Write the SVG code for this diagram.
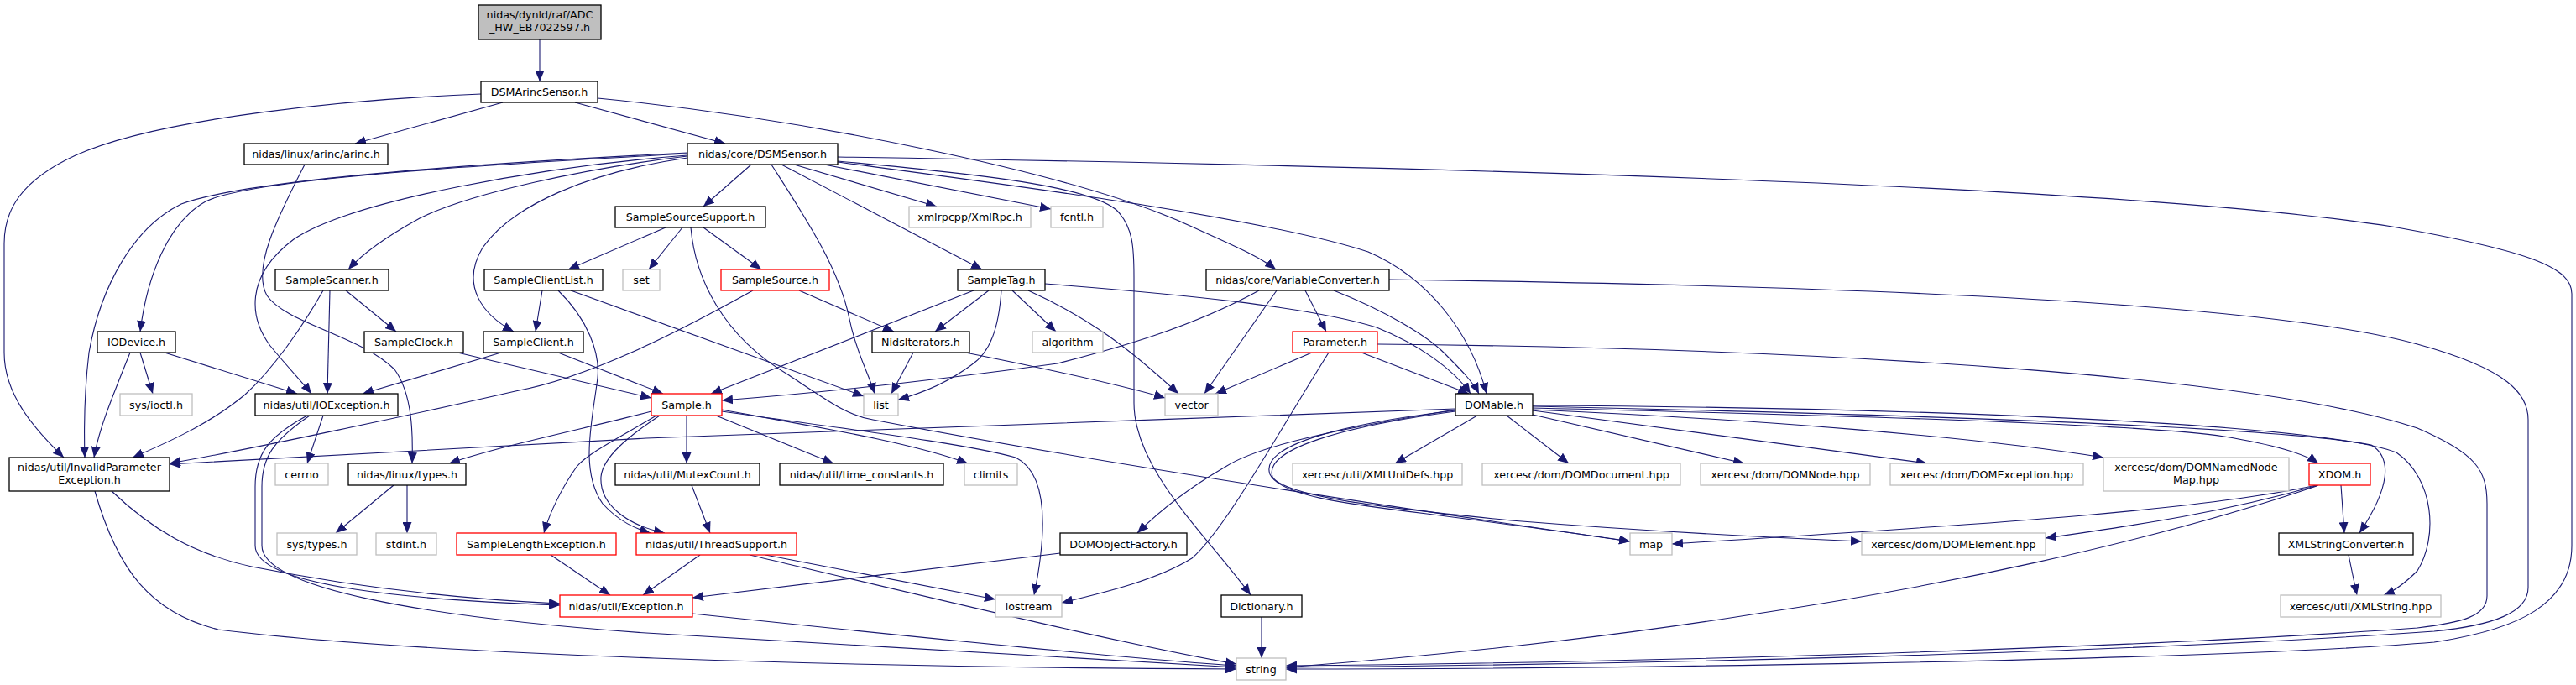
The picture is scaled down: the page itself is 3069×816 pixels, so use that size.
<svg xmlns="http://www.w3.org/2000/svg" width="3069" height="816" viewBox="0 0 3069 816">
<style>
rect{stroke-width:1.3}
.n rect{fill:#fff;stroke:#000}
.g rect{fill:#fff;stroke:#bfbfbf}
.r rect{fill:#fff;stroke:#ff0000}
.root rect{fill:#bfbfbf;stroke:#000}
text{font-family:"DejaVu Sans","Liberation Sans",sans-serif;font-size:12.7px;fill:#000;text-anchor:middle}
.e path{fill:none;stroke:#191970;stroke-width:1.1;marker-end:url(#a)}
</style>
<defs>
<marker id="a" markerWidth="13" markerHeight="11" refX="13" refY="5.5" orient="auto" markerUnits="userSpaceOnUse"><path d="M0,0 L13,5.5 L0,11 z" fill="#191970" stroke="none"/></marker>
</defs>
<rect width="3069" height="816" fill="#fff"/>
<g class="e" id="edges">
<path d="M643,47 L643,97"/>
<path d="M599,122 L423,171"/>
<path d="M685,122 L864,171"/>
<path d="M573,112 C420,118 190,140 90,185 C25,215 5,250 5,290 L5,420 C5,470 40,510 76,545"/>
<path d="M712,117 C950,140 1280,205 1420,270 C1470,293 1500,305 1520,321"/>
<path d="M363,196 C330,260 300,320 318,352 C340,385 430,400 470,440 C492,470 492,520 491,552"/>
<path d="M895,196 L838,246"/>
<path d="M946,196 L1116,246"/>
<path d="M982,196 L1252,249"/>
<path d="M931,196 L1170,321"/>
<path d="M919,196 C960,260 1000,320 1012,380 C1020,420 1035,445 1042,469"/>
<path d="M998,192 C1200,210 1300,225 1330,250 C1350,270 1351,295 1351,330 L1351,480 C1351,560 1440,640 1490,709"/>
<path d="M998,193 C1200,220 1500,258 1630,300 C1700,330 1752,395 1771,469"/>
<path d="M998,187 C1500,195 2500,215 2850,270 C3020,300 3064,320 3064,350 L3064,650 C3064,720 3000,750 2900,765 C2600,790 1800,797 1532,797"/>
<path d="M819,186 C700,200 560,230 500,260 C460,282 432,302 415,321"/>
<path d="M819,188 C700,205 610,245 575,295 C548,340 575,375 612,395"/>
<path d="M819,185 C650,198 420,238 350,285 C290,330 298,380 322,412 C345,440 360,455 371,469"/>
<path d="M819,183 C600,195 300,212 245,240 C200,265 175,330 167,395"/>
<path d="M819,182 C600,193 300,212 216,243 C160,270 120,340 106,420 C100,470 100,510 101,545"/>
<path d="M167,420 L182,469"/>
<path d="M196,420 L354,469"/>
<path d="M155,420 C135,470 118,510 112,545"/>
<path d="M393,346 L390,469"/>
<path d="M412,346 L472,395"/>
<path d="M385,346 C360,390 325,440 292,470 C250,505 200,527 158,545"/>
<path d="M545,420 L776,474"/>
<path d="M665,420 L790,469"/>
<path d="M597,420 L432,469"/>
<path d="M646,346 L638,395"/>
<path d="M680,346 L1029,472"/>
<path d="M665,346 C700,380 715,420 712,450 C706,500 690,560 718,600 C738,622 758,630 775,635"/>
<path d="M776,490 C700,510 600,530 535,552"/>
<path d="M782,495 C740,520 700,540 687,556 C670,580 655,610 648,635"/>
<path d="M786,495 C748,520 718,545 716,568 C714,600 745,625 792,635"/>
<path d="M818,495 L818,552"/>
<path d="M853,495 L993,552"/>
<path d="M860,488 C950,505 1080,525 1153,552"/>
<path d="M860,490 C1000,510 1150,528 1210,545 C1245,562 1250,620 1232,709"/>
<path d="M793,271 L677,321"/>
<path d="M813,271 L773,321"/>
<path d="M838,271 L907,321"/>
<path d="M823,271 C828,330 860,400 940,447 C990,480 1010,495 1040,500 C1300,550 1700,610 1942,645"/>
<path d="M952,346 L1065,395"/>
<path d="M897,346 C800,400 700,450 614,466 C500,492 300,535 202,552"/>
<path d="M1160,346 L847,469"/>
<path d="M1178,346 L1114,395"/>
<path d="M1193,346 C1190,390 1180,420 1157,435 C1130,455 1100,468 1070,476"/>
<path d="M1206,346 L1258,395"/>
<path d="M1225,346 C1300,380 1345,415 1404,469"/>
<path d="M1245,338 C1400,350 1560,365 1640,390 C1690,410 1732,440 1752,469"/>
<path d="M1500,346 C1420,390 1330,415 1260,433 C1100,455 950,470 860,477"/>
<path d="M1555,346 L1580,395"/>
<path d="M1589,346 C1650,370 1700,400 1720,420 C1740,440 1755,455 1762,469"/>
<path d="M1521,346 L1435,469"/>
<path d="M1655,333 C2200,340 2700,360 2880,410 C2990,440 3012,470 3012,500 L3012,700 C3012,730 2970,745 2900,752 C2500,780 1900,792 1532,795"/>
<path d="M1641,410 C2200,415 2700,450 2880,510 C2950,540 2963,560 2963,600 L2963,710 C2963,735 2930,742 2880,748 C2500,775 1900,790 1532,793"/>
<path d="M1563,420 L1448,469"/>
<path d="M1622,420 L1750,469"/>
<path d="M1583,420 C1520,520 1460,630 1420,665 C1380,690 1320,705 1265,718"/>
<path d="M1760,495 L1662,552"/>
<path d="M1795,495 L1869,552"/>
<path d="M1826,494 L2078,552"/>
<path d="M1826,489 L2296,552"/>
<path d="M1826,488 C2100,500 2350,520 2506,545"/>
<path d="M1826,486 C2200,495 2550,505 2650,520 C2710,530 2745,540 2762,552"/>
<path d="M1826,484 C2100,490 2700,505 2825,530 C2850,545 2848,580 2811,635"/>
<path d="M1826,483 C2200,485 2750,500 2855,539 C2900,570 2905,640 2880,680 C2865,695 2850,705 2840,709"/>
<path d="M1734,487 C1400,500 900,515 770,522 C500,535 300,548 202,553"/>
<path d="M1734,488 C1600,510 1500,530 1460,556 C1410,585 1380,610 1355,635"/>
<path d="M1734,489 C1600,505 1500,530 1513,565 C1525,590 1600,600 1700,612 C1800,625 1900,638 1942,645"/>
<path d="M1734,490 C1600,508 1505,535 1516,568 C1530,592 1650,605 1800,620 C1950,632 2100,640 2218,645"/>
<path d="M2762,578 C2650,610 2550,625 2437,641"/>
<path d="M2760,578 C2600,612 2300,628 1992,648"/>
<path d="M2760,579 C2550,650 2300,700 2100,730 C1900,762 1700,782 1532,795"/>
<path d="M2789,578 L2793,635"/>
<path d="M2798,661 L2808,709"/>
<path d="M385,495 L366,552"/>
<path d="M366,495 C320,520 304,540 304,580 L304,650 C304,700 500,715 667,721"/>
<path d="M369,495 C325,525 312,545 312,580 L312,650 C312,700 500,735 770,754 C1100,775 1300,785 1473,795"/>
<path d="M133,585 C180,630 230,660 300,675 C450,705 580,715 667,719"/>
<path d="M113,585 C140,680 180,730 260,750 C500,780 1000,795 1473,797"/>
<path d="M656,661 L727,709"/>
<path d="M834,661 L766,709"/>
<path d="M912,661 L1186,714"/>
<path d="M893,661 C1100,710 1350,770 1473,791"/>
<path d="M825,731 C1100,760 1350,785 1473,793"/>
<path d="M824,578 L846,635"/>
<path d="M1263,659 L825,712"/>
<path d="M1503,735 L1503,784"/>
<path d="M1088,420 L1062,469"/>
<path d="M1150,420 C1250,440 1340,460 1388,474"/>
<path d="M469,578 L400,635"/>
<path d="M485,578 L485,635"/>
</g>
<g id="root" class="root"><rect x="570" y="6" width="146" height="41"/><text x="643" y="22">nidas/dynld/raf/ADC</text><text x="643" y="37">_HW_EB7022597.h</text></g>
<g id="dsmarinc" class="n"><rect x="573" y="97" width="139" height="25"/><text x="642.5" y="114">DSMArincSensor.h</text></g>
<g id="arinc" class="n"><rect x="291" y="171" width="171" height="25"/><text x="376.5" y="188">nidas/linux/arinc/arinc.h</text></g>
<g id="dsm" class="n"><rect x="819" y="171" width="179" height="25"/><text x="908.5" y="188">nidas/core/DSMSensor.h</text></g>
<g id="sss" class="n"><rect x="733" y="246" width="179" height="25"/><text x="822.5" y="263">SampleSourceSupport.h</text></g>
<g id="xmlrpc" class="g"><rect x="1083" y="246" width="145" height="25"/><text x="1155.5" y="263">xmlrpcpp/XmlRpc.h</text></g>
<g id="fcntl" class="g"><rect x="1252" y="246" width="62" height="25"/><text x="1283" y="263">fcntl.h</text></g>
<g id="scanner" class="n"><rect x="328" y="321" width="135" height="25"/><text x="395.5" y="338">SampleScanner.h</text></g>
<g id="scl" class="n"><rect x="577" y="321" width="141" height="25"/><text x="647.5" y="338">SampleClientList.h</text></g>
<g id="set" class="g"><rect x="742" y="321" width="44" height="25"/><text x="764" y="338">set</text></g>
<g id="ssrc" class="r"><rect x="859" y="321" width="129" height="25"/><text x="923.5" y="338">SampleSource.h</text></g>
<g id="tag" class="n"><rect x="1141" y="321" width="104" height="25"/><text x="1193" y="338">SampleTag.h</text></g>
<g id="varconv" class="n"><rect x="1437" y="321" width="218" height="25"/><text x="1546" y="338">nidas/core/VariableConverter.h</text></g>
<g id="iodev" class="n"><rect x="116" y="395" width="93" height="25"/><text x="162.5" y="412">IODevice.h</text></g>
<g id="clock" class="n"><rect x="434" y="395" width="118" height="25"/><text x="493" y="412">SampleClock.h</text></g>
<g id="client" class="n"><rect x="576" y="395" width="119" height="25"/><text x="635.5" y="412">SampleClient.h</text></g>
<g id="nids" class="n"><rect x="1039" y="395" width="116" height="25"/><text x="1097" y="412">NidsIterators.h</text></g>
<g id="algo" class="g"><rect x="1230" y="395" width="84" height="25"/><text x="1272" y="412">algorithm</text></g>
<g id="param" class="r"><rect x="1540" y="395" width="101" height="25"/><text x="1590.5" y="412">Parameter.h</text></g>
<g id="ioctl" class="g"><rect x="143" y="469" width="86" height="26"/><text x="186" y="486.5">sys/ioctl.h</text></g>
<g id="ioexc" class="n"><rect x="304" y="469" width="170" height="26"/><text x="389" y="486.5">nidas/util/IOException.h</text></g>
<g id="sample" class="r"><rect x="776" y="469" width="84" height="26"/><text x="818" y="486.5">Sample.h</text></g>
<g id="list" class="g"><rect x="1029" y="469" width="41" height="26"/><text x="1049.5" y="486.5">list</text></g>
<g id="vector" class="g"><rect x="1388" y="469" width="63" height="26"/><text x="1419.5" y="486.5">vector</text></g>
<g id="domable" class="n"><rect x="1734" y="469" width="92" height="26"/><text x="1780" y="486.5">DOMable.h</text></g>
<g id="invp" class="n"><rect x="11" y="545" width="191" height="40"/><text x="106.5" y="561">nidas/util/InvalidParameter</text><text x="106.5" y="576">Exception.h</text></g>
<g id="cerrno" class="g"><rect x="328" y="552" width="63" height="26"/><text x="359.5" y="569.5">cerrno</text></g>
<g id="ltypes" class="n"><rect x="415" y="552" width="140" height="26"/><text x="485" y="569.5">nidas/linux/types.h</text></g>
<g id="mutex" class="n"><rect x="733" y="552" width="172" height="26"/><text x="819" y="569.5">nidas/util/MutexCount.h</text></g>
<g id="timec" class="n"><rect x="929" y="552" width="195" height="26"/><text x="1026.5" y="569.5">nidas/util/time_constants.h</text></g>
<g id="climits" class="g"><rect x="1149" y="552" width="63" height="26"/><text x="1180.5" y="569.5">climits</text></g>
<g id="xmluni" class="g"><rect x="1540" y="552" width="202" height="26"/><text x="1641" y="569.5">xercesc/util/XMLUniDefs.hpp</text></g>
<g id="domdoc" class="g"><rect x="1766" y="552" width="236" height="26"/><text x="1884" y="569.5">xercesc/dom/DOMDocument.hpp</text></g>
<g id="domnode" class="g"><rect x="2026" y="552" width="202" height="26"/><text x="2127" y="569.5">xercesc/dom/DOMNode.hpp</text></g>
<g id="domexc" class="g"><rect x="2252" y="552" width="230" height="26"/><text x="2367" y="569.5">xercesc/dom/DOMException.hpp</text></g>
<g id="dnnm" class="g"><rect x="2506" y="545" width="221" height="40"/><text x="2616.5" y="561">xercesc/dom/DOMNamedNode</text><text x="2616.5" y="576">Map.hpp</text></g>
<g id="xdom" class="r"><rect x="2751" y="552" width="73" height="26"/><text x="2787.5" y="569.5">XDOM.h</text></g>
<g id="systypes" class="g"><rect x="330" y="635" width="95" height="26"/><text x="377.5" y="652.5">sys/types.h</text></g>
<g id="stdint" class="g"><rect x="448" y="635" width="72" height="26"/><text x="484" y="652.5">stdint.h</text></g>
<g id="sle" class="r"><rect x="544" y="635" width="190" height="26"/><text x="639" y="652.5">SampleLengthException.h</text></g>
<g id="thread" class="r"><rect x="758" y="635" width="191" height="26"/><text x="853.5" y="652.5">nidas/util/ThreadSupport.h</text></g>
<g id="dof" class="n"><rect x="1263" y="635" width="151" height="26"/><text x="1338.5" y="652.5">DOMObjectFactory.h</text></g>
<g id="map" class="g"><rect x="1942" y="635" width="50" height="26"/><text x="1967" y="652.5">map</text></g>
<g id="domel" class="g"><rect x="2218" y="635" width="219" height="26"/><text x="2327.5" y="652.5">xercesc/dom/DOMElement.hpp</text></g>
<g id="xmlsc" class="n"><rect x="2715" y="635" width="160" height="26"/><text x="2795" y="652.5">XMLStringConverter.h</text></g>
<g id="exc" class="r"><rect x="667" y="709" width="158" height="26"/><text x="746" y="726.5">nidas/util/Exception.h</text></g>
<g id="iostream" class="g"><rect x="1186" y="709" width="79" height="26"/><text x="1225.5" y="726.5">iostream</text></g>
<g id="dict" class="n"><rect x="1455" y="709" width="96" height="26"/><text x="1503" y="726.5">Dictionary.h</text></g>
<g id="xmlstr" class="g"><rect x="2717" y="709" width="191" height="26"/><text x="2812.5" y="726.5">xercesc/util/XMLString.hpp</text></g>
<g id="string" class="g"><rect x="1473" y="784" width="59" height="26"/><text x="1502.5" y="801.5">string</text></g>
</svg>
